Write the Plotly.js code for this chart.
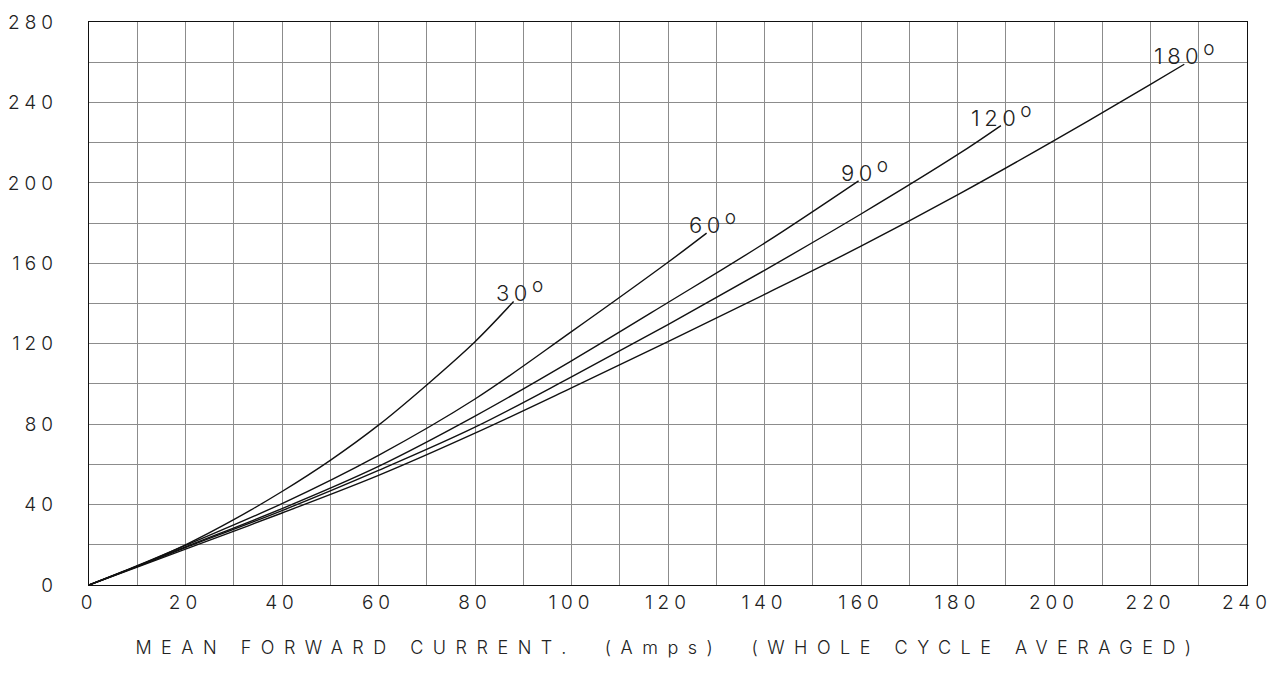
<!DOCTYPE html>
<html>
<head>
<meta charset="utf-8">
<script src="https://cdn.plot.ly/plotly-3.0.1.min.js"></script>
<style>
  html, body { margin: 0; padding: 0; background: #ffffff; }
  #chart { width: 1279px; height: 675px; }
  .xtick text, .ytick text { letter-spacing: 5px; }
  .g-xtitle text { letter-spacing: 9.5px; }
  .annotation-text { letter-spacing: 4.5px; }
</style>
</head>
<body>
<div id="chart"></div>
<script>
// ---- data ----
const xTickVals = [0, 20, 40, 60, 80, 100, 120, 140, 160, 180, 200, 220, 240];
const yTickVals = [0, 40, 80, 120, 160, 200, 240, 280];

const angleLabels = ['30', '60', '90', '120', '180'];

const curve30X = [0, 10, 20, 30, 40, 50, 60, 70, 80, 88];
const curve30Y = [0, 9.4, 20, 32.5, 46.5, 62, 79.5, 99.5, 121, 141];

const curve60X = [0, 10, 20, 40, 60, 80, 100, 120, 128];
const curve60Y = [0, 9.6, 19.7, 40.5, 64.5, 92.5, 126, 160.5, 175];

const curve90X = [0, 10, 20, 40, 60, 80, 100, 120, 140, 159.5];
const curve90Y = [0, 9.4, 19, 38, 59, 84, 111.5, 140.5, 170, 201];

const curve120X = [0, 10, 20, 40, 60, 80, 100, 120, 140, 160, 180, 189];
const curve120Y = [0, 9.2, 18.6, 37, 57, 78.5, 103.5, 129.5, 156.5, 184.5, 214, 228.5];

const curve180X = [0, 10, 20, 40, 60, 80, 100, 120, 140, 160, 180, 200, 220, 227];
const curve180Y = [0, 8.9, 17.8, 35.8, 54.5, 75.5, 98, 121, 144.5, 168.5, 194, 221, 249, 259];

const xTitle = 'MEAN FORWARD CURRENT.\u00a0 (Amps)\u00a0 (WHOLE CYCLE AVERAGED)';

// ---- build ----
const curvesX = [curve30X, curve60X, curve90X, curve120X, curve180X];
const curvesY = [curve30Y, curve60Y, curve90Y, curve120Y, curve180Y];

const FAMILY = 'Inter, "DejaVu Sans", sans-serif';
const FONT = { family: FAMILY, size: 19, color: '#222', weight: 300 };

const traces = curvesX.map((xs, i) => ({
  type: 'scatter',
  mode: 'lines',
  x: xs,
  y: curvesY[i],
  line: { color: '#111', width: 1.4, shape: 'spline', smoothing: 1 },
  name: angleLabels[i] + '°',
  hoverinfo: 'x+y+name'
}));

const annotations = curvesX.map((xs, i) => {
  const lab = angleLabels[i];
  return {
    x: xs[xs.length - 1],
    y: curvesY[i][curvesY[i].length - 1],
    xref: 'x', yref: 'y',
    text: lab + '<sup><span style="font-size:19px">o</span></sup>',
    showarrow: false,
    xanchor: 'left',
    yanchor: 'bottom',
    xshift: 4 - lab.length * 12,
    yshift: -7,
    font: { family: FAMILY, size: 22, color: '#222', weight: 300 }
  };
});

const gridColor = '#8c8c8c';

const layout = {
  width: 1279,
  height: 675,
  margin: { l: 89, r: 32, t: 22, b: 90 },
  paper_bgcolor: '#ffffff',
  plot_bgcolor: '#ffffff',
  showlegend: false,
  font: FONT,
  xaxis: {
    range: [0, 240],
    tickvals: xTickVals,
    ticktext: xTickVals.map(String),
    ticks: '',
    showgrid: true,
    gridcolor: gridColor,
    gridwidth: 1,
    minor: { dtick: 10, showgrid: true, gridcolor: gridColor, gridwidth: 1 },
    zeroline: false,
    showline: true,
    linecolor: '#111',
    linewidth: 1.2,
    mirror: true,
    tickfont: FONT,
    title: { text: xTitle, font: { family: FAMILY, size: 18, color: '#222', weight: 300 }, standoff: 28 },
    fixedrange: true
  },
  yaxis: {
    range: [0, 280],
    tickvals: yTickVals,
    ticktext: yTickVals.map(String),
    ticks: '',
    ticklabelstandoff: 26,
    showgrid: true,
    gridcolor: gridColor,
    gridwidth: 1,
    minor: { dtick: 20, showgrid: true, gridcolor: gridColor, gridwidth: 1 },
    zeroline: false,
    showline: true,
    linecolor: '#111',
    linewidth: 1.2,
    mirror: true,
    tickfont: FONT,
    fixedrange: true
  },
  annotations: annotations
};

Plotly.newPlot('chart', traces, layout, { displayModeBar: false, responsive: false, staticPlot: true });
</script>
</body>
</html>
